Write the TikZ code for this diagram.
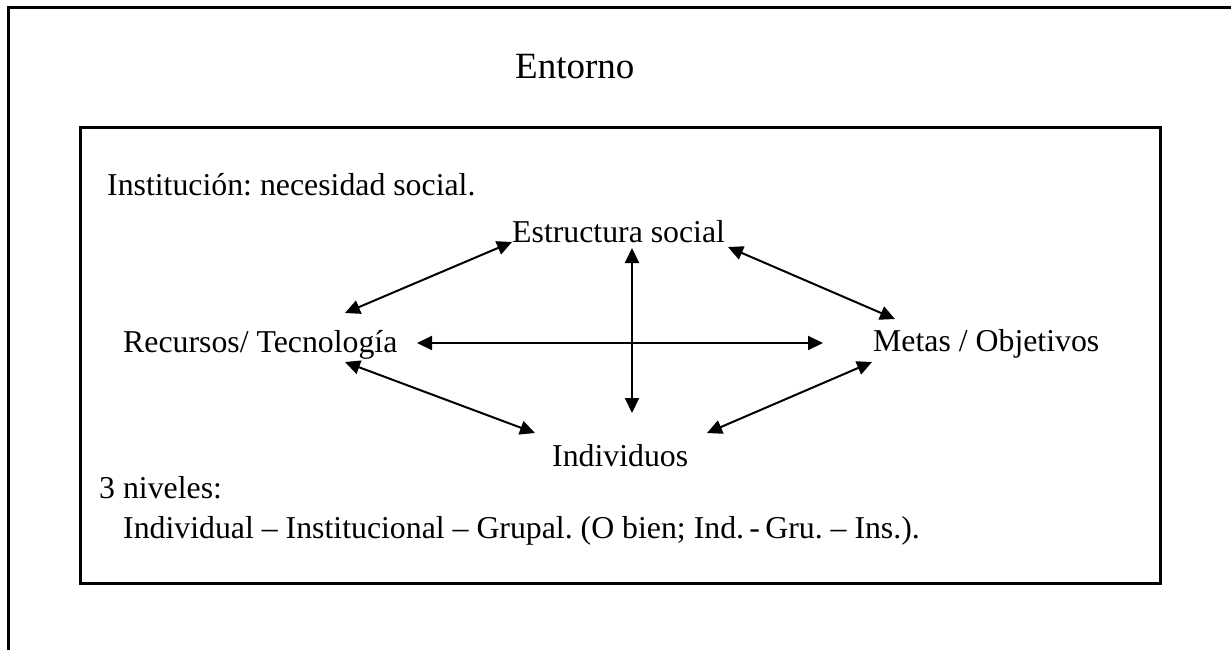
\documentclass[tikz,border=0pt]{standalone}
\usepackage{fontspec}
\setmainfont{Liberation Serif}
\usetikzlibrary{arrows.meta}
\frenchspacing
\begin{document}
\begin{tikzpicture}[x=1pt,y=-1pt,
  txt/.style={anchor=base west,inner sep=0pt,font=\fontsize{31.8}{38}\selectfont},
  bigtxt/.style={anchor=base west,inner sep=0pt,font=\fontsize{37}{44}\selectfont},
  frame/.style={line width=3pt},
  link/.style={line width=2pt,{Triangle[length=15pt,width=14pt]}-{Triangle[length=15pt,width=14pt]}}]
\useasboundingbox (0,0) rectangle (1231,649);
\clip (0,0) rectangle (1231,649);
% frames
\draw[frame] (8,670) -- (8,7) -- (1250,7);
\draw[frame] (80,127) rectangle (1160,583);
% texts
\node[bigtxt] (ent) at (515,78) {Entorno};
\node[txt] (inst) at (107,195) {Institución: necesidad social.};
\node[txt] (est) at (512,242) {Estructura social};
\node[txt] (rec) at (123,352) {Recursos/ Tecnología};
\node[txt] (met) at (873,351) {Metas / Objetivos};
\node[txt] (ind) at (552,466) {Individuos};
\node[txt] (niv) at (99,498) {3 niveles:};
\node[txt] (lev) at (123,538) {Individual – Institucional – Grupal. (O bien; Ind.\,-\,Gru. – Ins.).};
% arrow ends
\coordinate (estL) at (512,242);
\coordinate (estR) at (728,247);
\coordinate (estB) at (632,248);
\coordinate (recT) at (345,313);
\coordinate (recR) at (417,343);
\coordinate (recB) at (345,362);
\coordinate (metT) at (895,319);
\coordinate (metL) at (823,343);
\coordinate (metB) at (872,362);
\coordinate (indL) at (535,433);
\coordinate (indT) at (632,413);
\coordinate (indR) at (707,433);
% connectors
\draw[link] (recT) -- (estL);
\draw[link] (estR) -- (metT);
\draw[link] (recR) -- (metL);
\draw[link] (estB) -- (indT);
\draw[link] (recB) -- (indL);
\draw[link] (metB) -- (indR);
\end{tikzpicture}
\end{document}
